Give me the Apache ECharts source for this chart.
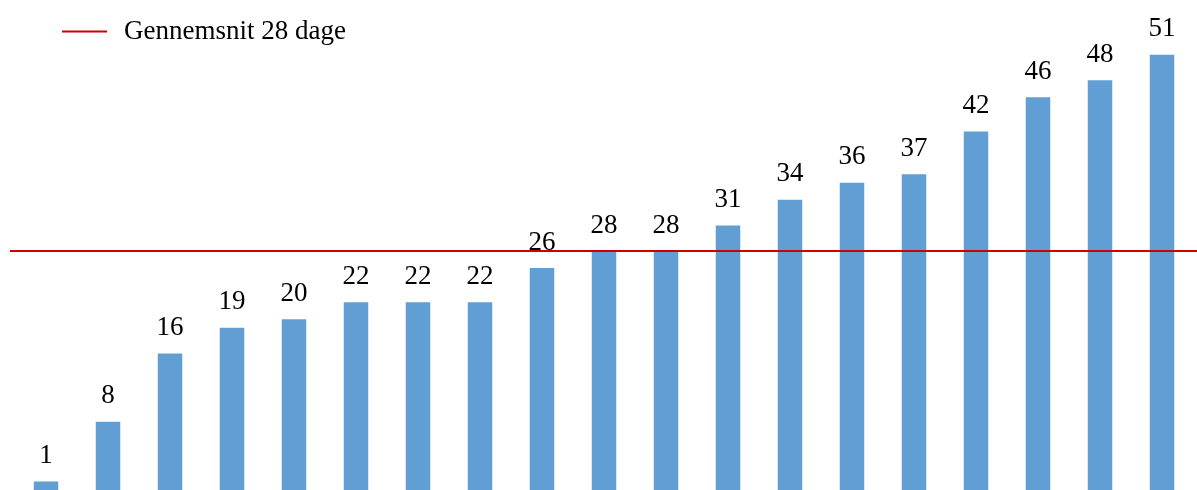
<!DOCTYPE html>
<html><head><meta charset="utf-8">
<script src="https://cdn.jsdelivr.net/npm/echarts@6/dist/echarts.min.js"></script>
<style>html,body{margin:0;padding:0;background:#fff}#c{width:1197px;height:490px}</style>
</head><body><div id="c"></div>
<script>
const categories = ['1','2','3','4','5','6','7','8','9','10','11','12','13','14','15','16','17','18','19'];
const values = [1,8,16,19,20,22,22,22,26,28,28,31,34,36,37,42,46,48,51];
const averageValue = 28;
const averageName = 'Gennemsnit 28 dage';

const chart = echarts.init(document.getElementById('c'));
const font = '"Liberation Serif", "DejaVu Serif", serif';
chart.setOption({
  animation: false,
  textStyle: {fontFamily: font},
  legend: {
    left: 57, top: 13,
    icon: 'rect', itemWidth: 45, itemHeight: 2,
    textStyle: {fontFamily: font, fontSize: 27, color: '#000', padding: [0,0,0,12]},
    data: [averageName]
  },
  grid: [
    {left: 15, right: 4, top: 12, height: 482},
    {left: 10, right: 0, top: 12, height: 482}
  ],
  xAxis: [
    {type: 'category', data: categories, gridIndex: 0, show: false},
    {type: 'value', gridIndex: 1, min: 0, max: 1, show: false}
  ],
  yAxis: [
    {type: 'value', gridIndex: 0, min: 0, max: 56, show: false},
    {type: 'value', gridIndex: 1, min: 0, max: 56, show: false}
  ],
  series: [
    {
      type: 'bar', xAxisIndex: 0, yAxisIndex: 0, data: values,
      barWidth: 24.5,
      itemStyle: {color: '#619ED4'},
      label: {show: true, position: 'top', distance: 12, fontFamily: font, fontSize: 27, color: '#000'}
    },
    {
      type: 'line', name: averageName, xAxisIndex: 1, yAxisIndex: 1,
      data: [[0, averageValue], [1, averageValue]],
      symbol: 'none', lineStyle: {color: '#CC0000', width: 2}, itemStyle: {color: '#CC0000'}
    }
  ]
});
</script></body></html>
